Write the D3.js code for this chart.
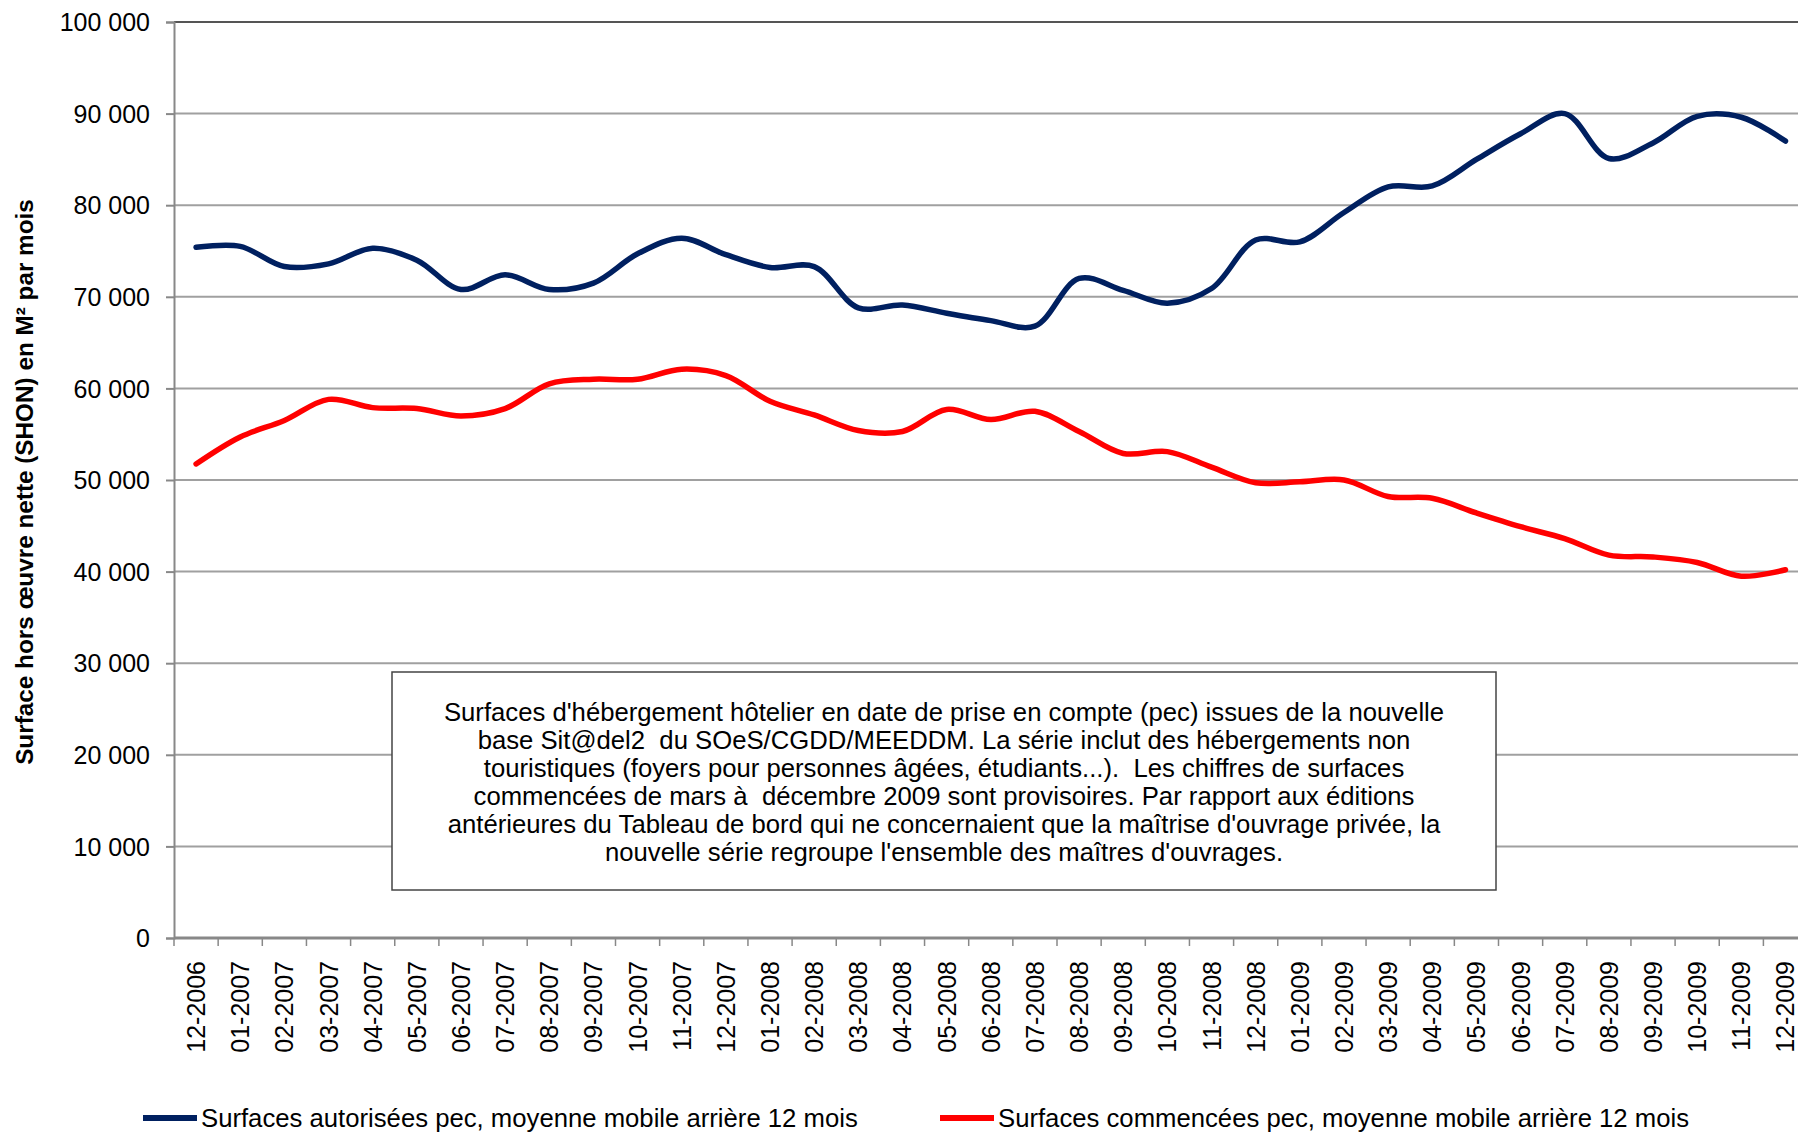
<!DOCTYPE html>
<html>
<head>
<meta charset="utf-8">
<script src="https://cdn.jsdelivr.net/npm/d3@7/dist/d3.min.js"></script>
<style>
html,body{margin:0;padding:0;background:#fff;}
svg{display:block;font-family:"Liberation Sans",Arial,sans-serif;}
</style>
</head>
<body>
<svg id="chart" width="1798" height="1133"></svg>
<script>
const categories = ["12-2006","01-2007","02-2007","03-2007","04-2007","05-2007","06-2007","07-2007","08-2007","09-2007","10-2007","11-2007","12-2007","01-2008","02-2008","03-2008","04-2008","05-2008","06-2008","07-2008","08-2008","09-2008","10-2008","11-2008","12-2008","01-2009","02-2009","03-2009","04-2009","05-2009","06-2009","07-2009","08-2009","09-2009","10-2009","11-2009","12-2009"];
const autorisees = [75400,75500,73300,73600,75300,74000,70800,72400,70800,71500,74700,76400,74600,73200,73300,68800,69100,68200,67400,66800,72000,70700,69300,70900,76200,76000,79200,82000,82100,85000,87800,90000,85100,86800,89700,89600,87000];
const commencees = [51750,54700,56500,58800,57900,57800,57000,57800,60500,61000,61000,62100,61400,58600,57100,55400,55300,57700,56600,57500,55300,52900,53100,51400,49700,49800,50000,48200,48000,46400,44900,43600,41800,41600,41000,39500,40200];
const yTicks = [0,10000,20000,30000,40000,50000,60000,70000,80000,90000,100000];
const seriesNames = ["Surfaces autorisées pec, moyenne mobile arrière 12 mois","Surfaces commencées pec, moyenne mobile arrière 12 mois"];
const yTitle = "Surface hors œuvre nette (SHON) en M² par mois";
const noteLines = [
 "Surfaces d'hébergement hôtelier en date de prise en compte (pec) issues de la nouvelle",
 "base Sit@del2  du SOeS/CGDD/MEEDDM. La série inclut des hébergements non",
 "touristiques (foyers pour personnes âgées, étudiants...).  Les chiffres de surfaces",
 "commencées de mars à  décembre 2009 sont provisoires. Par rapport aux éditions",
 "antérieures du Tableau de bord qui ne concernaient que la maîtrise d'ouvrage privée, la",
 "nouvelle série regroupe l'ensemble des maîtres d'ouvrages."
];

const svg = d3.select("#chart");
const pLeft = 174, pTop = 22, pBottom = 938, band = 44.15;
const pRight = pLeft + band * categories.length;
const x = d3.scaleBand().domain(categories).range([pLeft, pRight]);
const y = d3.scaleLinear().domain([0, 100000]).range([pBottom, pTop]);
const fmt = v => d3.format(",")(v).replace(/,/g, " ");

// gridlines
svg.append("g").selectAll("line").data(yTicks.filter(d => d > 0)).join("line")
  .attr("x1", pLeft).attr("x2", 1798)
  .attr("y1", d => y(d)).attr("y2", d => y(d))
  .attr("stroke", d => d === 100000 ? "#555" : "#a0a0a0").attr("stroke-width", 2);

// y axis
const yAxis = svg.append("g").attr("transform", `translate(${pLeft},0)`)
  .call(d3.axisLeft(y).tickValues(yTicks).tickFormat(fmt).tickSize(8).tickPadding(16));
yAxis.select(".domain").attr("stroke", "#888").attr("stroke-width", 2);
yAxis.selectAll(".tick line").attr("stroke", "#888").attr("stroke-width", 2);
yAxis.selectAll("text").attr("font-size", 25).attr("fill", "#000")
  .attr("font-family", "Liberation Sans, Arial, sans-serif").attr("dy", "0.35em");

// x axis baseline
svg.append("line").attr("x1", pLeft).attr("x2", 1798).attr("y1", pBottom).attr("y2", pBottom)
  .attr("stroke", "#888").attr("stroke-width", 3);
// x ticks at band boundaries
svg.append("g").selectAll("line").data(categories).join("line")
  .attr("x1", d => x(d)).attr("x2", d => x(d))
  .attr("y1", pBottom).attr("y2", pBottom + 8)
  .attr("stroke", "#888").attr("stroke-width", 1.5);
// x labels
svg.append("g").selectAll("text").data(categories).join("text")
  .attr("transform", d => `translate(${x(d) + x.bandwidth() / 2 + 9},${pBottom + 23}) rotate(-90)`)
  .attr("text-anchor", "end").attr("font-size", 25).attr("fill", "#000")
  .text(d => d);

// y title
svg.append("text").attr("transform", `translate(33,${(pTop + pBottom) / 2 + 2}) rotate(-90)`)
  .attr("text-anchor", "middle").attr("font-size", 24.3).attr("font-weight", "bold")
  .text(yTitle);

// note box
const box = svg.append("g");
box.append("rect").attr("x", 392).attr("y", 672).attr("width", 1104).attr("height", 218)
  .attr("fill", "#fff").attr("stroke", "#444").attr("stroke-width", 1.5);
box.selectAll("text").data(noteLines).join("text")
  .attr("x", 944).attr("y", (d, i) => 721 + i * 28)
  .attr("text-anchor", "middle").attr("font-size", 25.7).attr("fill", "#000")
  .style("white-space", "pre").attr("xml:space", "preserve")
  .text(d => d);

// lines
const line = d3.line().x((d, i) => x(categories[i]) + x.bandwidth() / 2).y(d => y(d)).curve(d3.curveCatmullRom.alpha(0.5));
svg.append("path").datum(autorisees).attr("d", line).attr("fill", "none")
  .attr("stroke", "#002060").attr("stroke-width", 5.5).attr("stroke-linecap", "round");
svg.append("path").datum(commencees).attr("d", line).attr("fill", "none")
  .attr("stroke", "#ff0000").attr("stroke-width", 5.5).attr("stroke-linecap", "round");

// legend
const legend = [{c: "#002060", x: 143}, {c: "#ff0000", x: 940}];
legend.forEach((l, i) => {
  svg.append("line").attr("x1", l.x).attr("x2", l.x + 54).attr("y1", 1118).attr("y2", 1118)
    .attr("stroke", l.c).attr("stroke-width", 6);
  svg.append("text").attr("x", l.x + 58).attr("y", 1127).attr("font-size", 25.7).attr("fill", "#000")
    .text(seriesNames[i]);
});
</script>
</body>
</html>
